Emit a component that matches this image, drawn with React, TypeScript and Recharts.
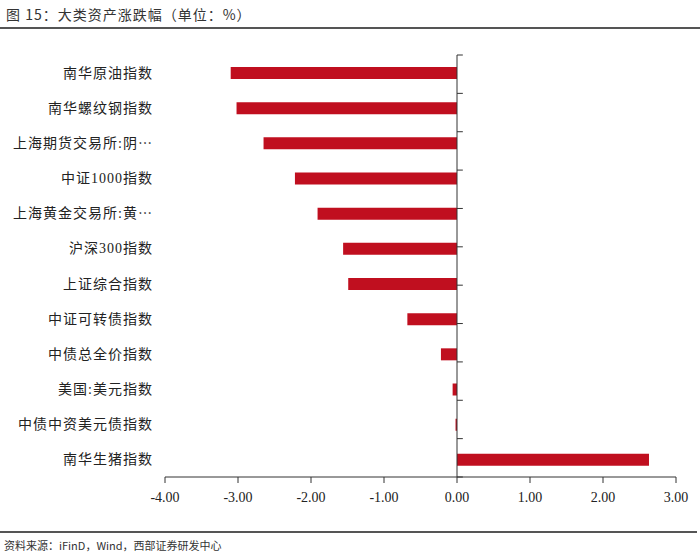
import { Bar, BarChart, ReferenceLine, XAxis, YAxis } from "recharts";

const categories = [
  "南华原油指数",
  "南华螺纹钢指数",
  "上海期货交易所:阴…",
  "中证1000指数",
  "上海黄金交易所:黄…",
  "沪深300指数",
  "上证综合指数",
  "中证可转债指数",
  "中债总全价指数",
  "美国:美元指数",
  "中债中资美元债指数",
  "南华生猪指数",
];
const changes = [-3.1, -3.02, -2.65, -2.22, -1.91, -1.56, -1.49, -0.68, -0.22, -0.06, -0.02, 2.63];
const xTicks = [-4, -3, -2, -1, 0, 1, 2, 3];
// category boundaries on the zero line (top edge + between rows)
const boundaryTicks = [0, 1, 2, 3, 4, 5, 6, 7, 8, 9, 10, 11];

const data = categories.map((name, i) => ({ name, value: changes[i] }));

const serifCjk = '"Liberation Serif", "Noto Sans CJK SC", serif';
const axisColor = "#333";

const CategoryTick = (props: any) => {
  const { x, y, payload } = props;
  const label: string = payload.value;
  const cut = label.endsWith("…");
  return (
    <text x={x} y={y} dy={5} textAnchor="end" fontSize={14} letterSpacing={1} fill="#222" fontFamily={serifCjk}>
      {cut ? label.slice(0, -1) : label}
      {cut && <tspan fontFamily='"Noto Sans CJK SC"'>⋯</tspan>}
    </text>
  );
};

const ValueTick = (props: any) => {
  const { x, y, payload } = props;
  return (
    <text x={x} y={y} dy={11} textAnchor="middle" fontSize={14} fill="#222" fontFamily='"Liberation Serif", serif'>
      {Number(payload.value).toFixed(2)}
    </text>
  );
};

export default function App() {
  return (
    <div style={{ position: "absolute", left: 0, top: 0, width: 700, height: 553, background: "#fff" }}>
      <div
        style={{
          position: "absolute",
          left: 6,
          top: 4,
          fontSize: 14,
          color: "#333",
          fontFamily: '"Noto Sans CJK SC", sans-serif',
          letterSpacing: 1,
        }}
      >
        图 15：大类资产涨跌幅（单位：%）
      </div>
      <div style={{ position: "absolute", left: 0, top: 27, width: 700, height: 1.5, background: "#555" }} />

      <BarChart
        width={700}
        height={553}
        data={data}
        layout="vertical"
        margin={{ top: 55, right: 24, left: 0, bottom: 46 }}
      >
        <XAxis
          type="number"
          domain={[-4, 3]}
          ticks={xTicks}
          interval={0}
          stroke={axisColor}
          tick={<ValueTick />}
          tickSize={6}
          tickMargin={8}
          height={30}
        />
        <YAxis
          yAxisId="cat"
          type="category"
          dataKey="name"
          width={165}
          axisLine={false}
          tickLine={false}
          tickSize={0}
          tickMargin={12}
          interval={0}
          tick={<CategoryTick />}
        />
        <YAxis yAxisId="edge" type="number" domain={[0, 12]} reversed hide />
        <Bar yAxisId="cat" dataKey="value" fill="#C00F1F" barSize={12} isAnimationActive={false} />
        <ReferenceLine x={0} yAxisId="edge" stroke={axisColor} strokeWidth={1} />
        {boundaryTicks.map((k) => (
          <ReferenceLine
            key={k}
            yAxisId="edge"
            segment={[
              { x: 0, y: k },
              { x: 0.08, y: k },
            ]}
            stroke={axisColor}
            strokeWidth={1}
          />
        ))}
      </BarChart>

      <div style={{ position: "absolute", left: 0, top: 531, width: 697, height: 1.5, background: "#555" }} />
      <div
        style={{
          position: "absolute",
          left: 4,
          top: 537,
          fontSize: 11,
          color: "#333",
          fontFamily: '"Noto Sans CJK SC", sans-serif',
        }}
      >
        资料来源：iFinD，Wind，西部证券研发中心
      </div>
    </div>
  );
}
